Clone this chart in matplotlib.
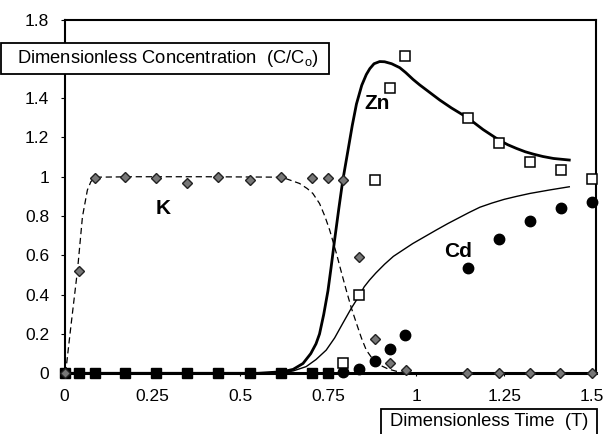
import matplotlib
matplotlib.use('Agg')
import matplotlib.pyplot as plt
from matplotlib.patches import Rectangle

plt.rcParams['font.family'] = ['Liberation Sans', 'DejaVu Sans']
plt.rcParams['mathtext.fontset'] = 'custom'
plt.rcParams['mathtext.rm'] = 'Liberation Sans'

# ---------------- data ----------------
# K measured (grey diamonds)
k_x = [0, 0.041, 0.086, 0.173, 0.26, 0.349, 0.437, 0.528, 0.616, 0.704, 0.749, 0.791,
       0.837, 0.882, 0.925, 0.97, 1.143, 1.235, 1.322, 1.41, 1.50]
k_y = [0, 0.52, 0.995, 0.997, 0.995, 0.97, 0.997, 0.985, 1.0, 0.994, 0.994, 0.983,
       0.59, 0.173, 0.05, 0.015, 0, 0, 0, 0, 0]

# Zn measured (open squares)
zn_x = [0.792, 0.837, 0.882, 0.925, 0.969, 1.146, 1.235, 1.322, 1.412, 1.499]
zn_y = [0.05, 0.398, 0.983, 1.453, 1.613, 1.30, 1.173, 1.073, 1.032, 0.989]

# Cd measured (filled circles)
cd_x = [0.791, 0.837, 0.882, 0.926, 0.969, 1.146, 1.235, 1.323, 1.412, 1.499]
cd_y = [0.005, 0.024, 0.062, 0.122, 0.197, 0.534, 0.683, 0.774, 0.839, 0.872]

# Early measurements at zero (filled squares)
zero_x = [0, 0.041, 0.086, 0.173, 0.26, 0.349, 0.437, 0.528, 0.616, 0.704, 0.749]
zero_y = [0, 0, 0, 0, 0, 0, 0, 0, 0, 0, 0]

# Model curves
k_line_x = [0.003, 0.018, 0.037, 0.051, 0.065, 0.075, 0.084, 0.10, 0.2, 0.4, 0.6, 0.63,
            0.668, 0.69, 0.706, 0.725, 0.74, 0.754, 0.773, 0.787, 0.801, 0.815, 0.83,
            0.844, 0.858, 0.877, 0.896, 0.92, 0.944, 0.97]
k_line_y = [0, 0.237, 0.525, 0.796, 0.932, 0.975, 0.991, 0.998, 1.0, 1.0, 0.998, 0.99,
            0.966, 0.94, 0.915, 0.864, 0.80, 0.728, 0.61, 0.515, 0.423, 0.335, 0.254,
            0.18, 0.118, 0.07, 0.042, 0.022, 0.01, 0.0]

zn_line_x = [0, 0.55, 0.62, 0.65, 0.678, 0.70, 0.715, 0.725, 0.737, 0.749, 0.758, 0.768,
             0.78, 0.791, 0.806, 0.818, 0.83, 0.845, 0.858, 0.868, 0.88, 0.896, 0.91,
             0.93, 0.953, 0.97, 0.991, 1.01, 1.03, 1.067, 1.1, 1.146, 1.19, 1.235,
             1.26, 1.285, 1.31, 1.333, 1.36, 1.39, 1.435]
zn_line_y = [0, 0, 0.008, 0.02, 0.05, 0.1, 0.15, 0.2, 0.3, 0.42, 0.54, 0.68,
             0.84, 0.98, 1.135, 1.26, 1.37, 1.465, 1.52, 1.55, 1.575, 1.586, 1.585,
             1.575, 1.555, 1.53, 1.495, 1.467, 1.44, 1.39, 1.35, 1.30, 1.24, 1.187,
             1.163, 1.144, 1.127, 1.115, 1.103, 1.093, 1.085]

cd_line_x = [0, 0.55, 0.62, 0.65, 0.687, 0.715, 0.744, 0.768, 0.791, 0.815, 0.839, 0.852,
             0.867, 0.885, 0.91, 0.935, 0.962, 0.99, 1.057, 1.09, 1.12, 1.15, 1.181,
             1.215, 1.25, 1.285, 1.323, 1.38, 1.435]
cd_line_y = [0, 0, 0.003, 0.012, 0.034, 0.07, 0.118, 0.18, 0.254, 0.33, 0.398, 0.44,
             0.474, 0.51, 0.555, 0.595, 0.627, 0.66, 0.729, 0.762, 0.79, 0.818, 0.845,
             0.866, 0.885, 0.9, 0.915, 0.933, 0.949]

x_ticks = [0, 0.25, 0.5, 0.75, 1, 1.25, 1.5]
x_tick_labels = ['0', '0.25', '0.5', '0.75', '1', '1.25', '1.5']
y_ticks = [0, 0.2, 0.4, 0.6, 0.8, 1, 1.2, 1.4, 1.6, 1.8]
y_tick_labels = ['0', '0.2', '0.4', '0.6', '0.8', '1', '1.2', '1.4', '', '1.8']

# ---------------- figure ----------------
W, H = 608, 434
fig = plt.figure(figsize=(W / 100, H / 100), dpi=100)
left, right, top, bottom = 64.5, 596, 19.5, 373.3
ax = fig.add_axes([left / W, 1 - bottom / H, (right - left) / W, (bottom - top) / H])
ax.set_xlim(0, 1.511)
ax.set_ylim(0, 1.8)

# curves
ax.plot(k_line_x, k_line_y, color='black', lw=0.9, ls=(0, (5, 3)), zorder=2)
ax.plot(cd_line_x, cd_line_y, color='black', lw=1.0, zorder=2)
ax.plot(zn_line_x, zn_line_y, color='black', lw=2.0, zorder=2)

# markers
ax.plot(zero_x, zero_y, ls='none', marker='s', ms=7, mfc='black', mec='black',
        clip_on=False, zorder=4)
ax.plot(k_x, k_y, ls='none', marker='D', ms=5.5, mfc='#777777', mec='#222222', mew=1.0,
        clip_on=False, zorder=5)
ax.plot(cd_x, cd_y, ls='none', marker='o', ms=7.5, mfc='black', mec='black',
        clip_on=False, zorder=5)
ax.plot(zn_x, zn_y, ls='none', marker='s', ms=7.5, mfc='white', mec='black', mew=1.1,
        clip_on=False, zorder=5)

# species labels
ax.text(0.281, 0.84, 'K', fontsize=15, fontweight='bold', ha='center', va='center')
ax.text(0.89, 1.374, 'Zn', fontsize=15, fontweight='bold', ha='center', va='center')
ax.text(1.118, 0.618, 'Cd', fontsize=15, fontweight='bold', ha='center', va='center')

# axes styling
for s in ['top', 'right', 'left']:
    ax.spines[s].set_linewidth(1.5)
ax.spines['bottom'].set_linewidth(2.2)
ax.set_xticks(x_ticks)
ax.set_xticklabels(x_tick_labels)
ax.set_yticks(y_ticks)
ax.set_yticklabels(y_tick_labels)
ax.tick_params(axis='x', direction='out', length=2, width=0.8, pad=9, labelsize=12.5)
ax.tick_params(axis='y', direction='out', length=3, width=0.8, pad=8, labelsize=12.5)

# axis-title boxes
fig.patches.append(Rectangle((1 / W, 1 - 74 / H), 328 / W, 31 / H, transform=fig.transFigure,
                             facecolor='white', edgecolor='black', lw=1.3, zorder=5))
fig.text(17 / W, 1 - 58.5 / H, r'Dimensionless Concentration  (C/C$_\mathregular{o}$)',
         fontsize=13.2, ha='left', va='center', zorder=6)

fig.patches.append(Rectangle((381 / W, -5 / H), 216 / W, (434 - 409 + 5) / H,
                             transform=fig.transFigure, facecolor='white',
                             edgecolor='black', lw=1.3, zorder=5))
fig.text(489 / W, 1 - 421 / H, 'Dimensionless Time  (T)', fontsize=13.2,
         ha='center', va='center', zorder=6)

fig.savefig('out.png', dpi=100)
